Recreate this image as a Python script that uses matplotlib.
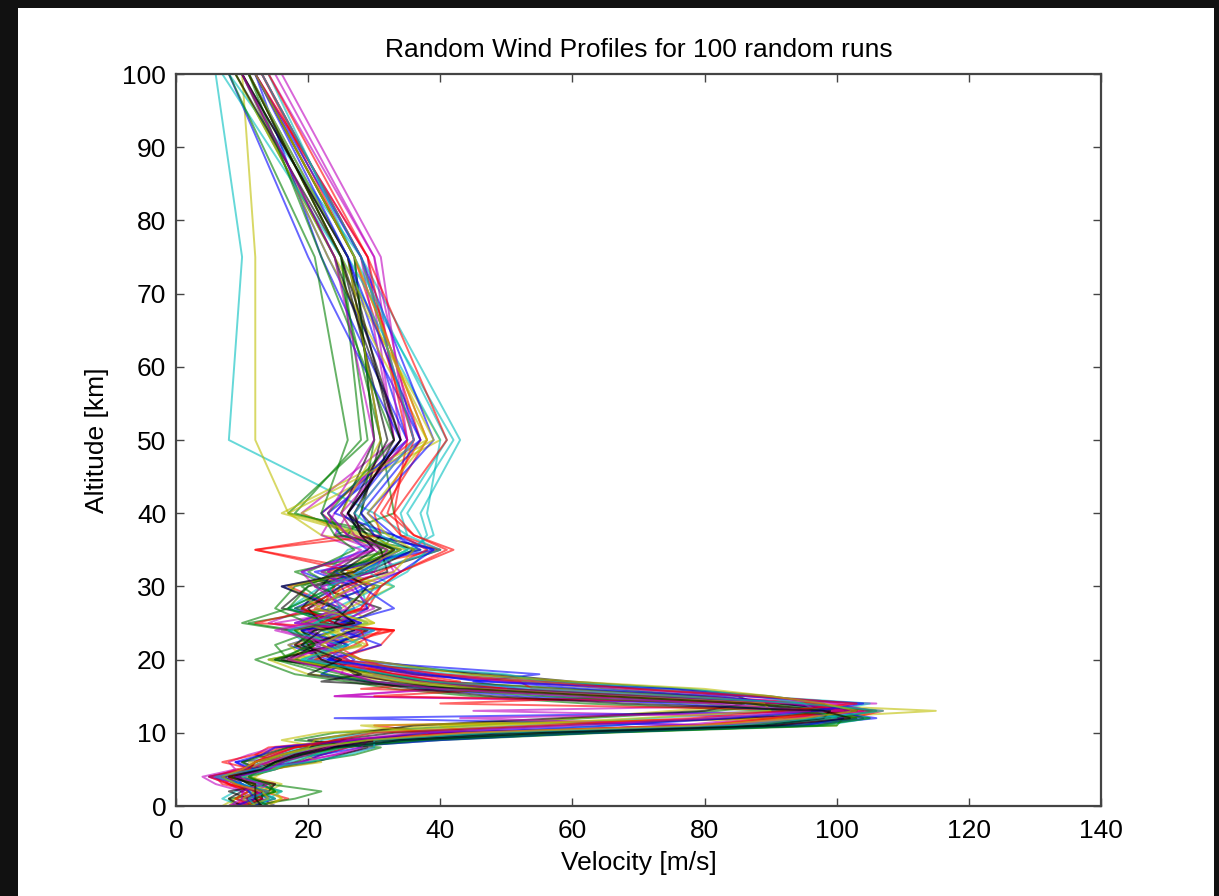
import numpy as np
import matplotlib
matplotlib.use("Agg")
import matplotlib.pyplot as plt
from matplotlib.patches import Rectangle

plt.rcParams['font.family'] = ['Liberation Sans', 'DejaVu Sans']

# altitude levels [km] shared by every run
altitude = [0, 1, 2, 3, 4, 5, 6, 7, 8, 9, 10, 11, 12, 13, 14, 15, 16, 17, 18,
            20, 22, 24, 25, 27, 30, 32, 35, 37, 40, 50, 75, 100]

# velocity [m/s] at each altitude level, one list per run
run01 = [10, 12, 14, 9, 8, 11, 9, 22, 26, 28, 45, 82, 96, 101, 90, 70, 50, 36, 28, 22, 19, 27, 24, 18, 25, 29, 33, 28, 26, 35, 26, 11]
run02 = [13, 9, 11, 12, 10, 13, 16, 20, 24, 38, 64, 97, 103, 97, 92, 80, 66, 52, 38, 14, 26, 20, 28, 18, 31, 22, 37, 24, 33, 31, 24, 9]
run03 = [8, 14, 12, 7, 6, 9, 16, 12, 14, 26, 39, 30, 90, 106, 96, 80, 58, 40, 33, 22, 18, 29, 19, 25, 17, 30, 12, 26, 22, 36, 28, 13]
run04 = [12, 10, 15, 13, 9, 13, 17, 18, 22, 22, 30, 52, 72, 92, 87, 58, 42, 30, 22, 25, 20, 17, 22, 29, 28, 23, 26, 35, 30, 8, 10, 6]
run05 = [9, 11, 10, 8, 5, 10, 18, 24, 30, 25, 44, 76, 88, 104, 95, 24, 39, 34, 25, 26, 23, 21, 15, 29, 22, 33, 31, 27, 19, 33, 29, 12]
run06 = [7, 9, 14, 16, 11, 12, 15, 18, 23, 29, 36, 100, 95, 115, 90, 70, 50, 38, 31, 21, 25, 18, 22, 20, 27, 28, 35, 22, 17, 12, 12, 10]
run07 = [11, 15, 12, 10, 7, 13, 10, 13, 17, 31, 60, 90, 99, 94, 88, 85, 70, 58, 45, 28, 22, 19, 26, 31, 21, 30, 40, 29, 25, 30, 27, 12]
run08 = [15, 13, 11, 9, 9, 11, 14, 16, 25, 35, 61, 95, 106, 98, 86, 64, 52, 45, 55, 23, 17, 24, 19, 27, 25, 19, 29, 26, 23, 37, 23, 10]
run09 = [9, 8, 16, 12, 8, 12, 20, 27, 31, 18, 24, 45, 62, 82, 92, 78, 60, 40, 32, 17, 15, 21, 26, 19, 24, 18, 33, 30, 18, 28, 25, 11]
run10 = [12, 17, 13, 15, 10, 15, 19, 22, 26, 36, 55, 90, 102, 107, 91, 75, 54, 52, 35, 24, 20, 33, 20, 28, 30, 23, 40, 34, 31, 38, 27, 13]
run11 = [10, 7, 9, 13, 6, 11, 14, 17, 21, 38, 62, 98, 105, 100, 89, 67, 47, 37, 30, 20, 26, 23, 25, 17, 24, 27, 36, 38, 37, 43, 28, 8]
run12 = [8, 12, 10, 6, 4, 9, 8, 11, 15, 27, 46, 85, 98, 45, 106, 71, 51, 41, 34, 16, 24, 20, 28, 21, 27, 34, 30, 24, 26, 34, 30, 14]
run13 = [13, 16, 15, 11, 12, 14, 11, 19, 22, 16, 22, 40, 60, 75, 93, 69, 46, 35, 20, 14, 25, 22, 30, 26, 33, 24, 32, 27, 19, 40, 24, 9]
run14 = [10, 11, 8, 14, 8, 12, 15, 18, 23, 32, 49, 87, 96, 100, 98, 90, 76, 60, 48, 17, 21, 19, 24, 19, 22, 24, 29, 31, 28, 31, 26, 10]
run15 = [14, 12, 14, 9, 7, 10, 19, 22, 28, 29, 42, 80, 24, 103, 94, 72, 50, 37, 31, 20, 24, 28, 18, 25, 16, 28, 34, 25, 22, 35, 22, 12]
run16 = [11, 18, 22, 14, 9, 13, 16, 20, 24, 40, 65, 100, 101, 90, 62, 45, 33, 26, 18, 12, 19, 24, 20, 15, 18, 27, 31, 33, 17, 29, 25, 11]
run17 = [9, 10, 13, 8, 6, 11, 14, 17, 21, 31, 47, 83, 100, 106, 97, 74, 28, 43, 36, 28, 24, 33, 21, 29, 31, 34, 41, 36, 32, 36, 27, 12]
run18 = [12, 14, 16, 12, 10, 14, 12, 15, 19, 36, 54, 89, 97, 99, 105, 88, 72, 55, 42, 20, 28, 22, 29, 24, 31, 35, 38, 37, 35, 42, 26, 11]
run19 = [10, 13, 12, 9, 7, 10, 12, 15, 18, 26, 40, 78, 93, 102, 88, 24, 41, 30, 26, 18, 22, 20, 14, 20, 28, 23, 28, 22, 24, 33, 28, 13]
run20 = [8, 9, 11, 10, 8, 12, 16, 19, 22, 28, 45, 40, 95, 100, 90, 66, 47, 36, 29, 20, 17, 25, 22, 23, 25, 26, 33, 28, 16, 38, 23, 10]
run21 = [13, 11, 14, 15, 9, 14, 21, 25, 29, 20, 28, 36, 58, 80, 86, 64, 43, 33, 27, 24, 18, 21, 27, 16, 20, 29, 36, 30, 26, 32, 25, 9]
run22 = [11, 14, 12, 10, 5, 11, 13, 16, 20, 35, 63, 92, 104, 101, 92, 82, 62, 48, 36, 23, 26, 19, 25, 29, 27, 21, 39, 33, 24, 34, 20, 8]
run23 = [10, 12, 15, 13, 11, 15, 18, 21, 25, 35, 59, 94, 103, 95, 87, 63, 42, 30, 25, 16, 20, 18, 11, 24, 19, 25, 32, 26, 28, 30, 27, 12]
run24 = [12, 9, 11, 8, 7, 12, 7, 12, 16, 27, 41, 80, 92, 104, 40, 71, 50, 40, 33, 24, 31, 33, 12, 22, 24, 27, 12, 31, 30, 37, 28, 13]
run25 = [9, 15, 13, 11, 9, 13, 15, 17, 21, 29, 47, 66, 80, 99, 89, 67, 46, 35, 30, 26, 21, 28, 23, 17, 22, 28, 35, 39, 38, 40, 25, 7]
run26 = [11, 10, 12, 14, 6, 10, 14, 18, 22, 31, 50, 82, 94, 105, 100, 86, 68, 50, 40, 20, 25, 16, 24, 30, 26, 22, 30, 28, 27, 36, 30, 15]
run27 = [14, 16, 14, 11, 10, 14, 22, 19, 25, 32, 38, 28, 91, 98, 88, 65, 44, 34, 28, 18, 29, 23, 19, 25, 30, 26, 33, 27, 25, 31, 26, 11]
run28 = [10, 8, 10, 12, 8, 11, 12, 16, 20, 24, 33, 58, 85, 103, 91, 68, 47, 37, 31, 15, 24, 29, 22, 20, 25, 32, 31, 29, 26, 34, 24, 10]
run29 = [12, 13, 13, 10, 9, 14, 16, 19, 24, 40, 62, 95, 101, 94, 75, 52, 38, 29, 22, 27, 23, 30, 25, 33, 28, 24, 37, 33, 29, 39, 28, 12]
run30 = [11, 11, 12, 9, 7, 12, 10, 14, 17, 30, 49, 87, 99, 106, 95, 70, 49, 38, 31, 18, 21, 17, 10, 17, 20, 24, 34, 25, 23, 33, 22, 11]
run31 = [9, 12, 14, 8, 5, 10, 12, 14, 18, 26, 43, 79, 90, 101, 96, 30, 50, 41, 33, 21, 27, 31, 24, 19, 26, 31, 38, 34, 33, 35, 29, 12]
run32 = [13, 14, 11, 13, 10, 15, 17, 21, 25, 33, 53, 88, 100, 97, 95, 88, 78, 56, 50, 19, 25, 17, 21, 27, 33, 29, 40, 35, 34, 41, 27, 14]
run33 = [10, 11, 13, 9, 6, 12, 19, 24, 28, 29, 45, 83, 43, 102, 93, 69, 48, 37, 30, 26, 21, 28, 18, 25, 22, 30, 32, 27, 25, 35, 31, 16]
run34 = [12, 10, 12, 12, 8, 11, 13, 16, 20, 21, 27, 48, 70, 90, 89, 66, 46, 36, 30, 17, 28, 24, 29, 22, 17, 27, 34, 29, 17, 39, 25, 11]
run35 = [11, 13, 13, 11, 9, 13, 15, 18, 23, 31, 51, 89, 98, 99, 87, 65, 44, 22, 28, 22, 20, 27, 24, 26, 29, 25, 30, 28, 27, 33, 26, 10]
run36 = [9, 12, 11, 10, 7, 12, 9, 13, 15, 27, 38, 66, 84, 97, 104, 86, 75, 46, 38, 23, 31, 25, 28, 22, 29, 34, 39, 30, 28, 37, 26, 12]
run37 = [14, 12, 15, 14, 11, 13, 16, 19, 25, 37, 63, 97, 105, 93, 80, 56, 39, 29, 23, 15, 21, 18, 23, 17, 24, 20, 27, 24, 22, 26, 21, 8]
run38 = [10, 13, 12, 9, 8, 11, 12, 15, 18, 24, 30, 55, 78, 92, 103, 88, 70, 55, 40, 25, 29, 28, 22, 28, 31, 34, 42, 36, 33, 41, 29, 14]
run39 = [12, 11, 14, 10, 6, 12, 20, 26, 30, 30, 48, 84, 97, 107, 95, 76, 55, 39, 32, 19, 26, 30, 21, 25, 23, 29, 35, 31, 27, 36, 28, 13]
run40 = [8, 10, 10, 13, 9, 14, 16, 20, 23, 26, 36, 60, 81, 96, 81, 60, 40, 30, 26, 17, 24, 15, 20, 26, 21, 19, 30, 26, 23, 30, 24, 10]
run41 = [11, 14, 13, 9, 7, 10, 12, 16, 21, 29, 44, 79, 95, 103, 98, 90, 80, 60, 44, 28, 22, 26, 30, 21, 27, 33, 36, 32, 29, 38, 27, 12]
run42 = [13, 12, 12, 12, 8, 13, 15, 19, 24, 34, 56, 91, 102, 98, 68, 48, 36, 28, 20, 25, 19, 22, 27, 24, 16, 27, 33, 28, 26, 34, 25, 11]

runs = [run01, run02, run03, run04, run05, run06, run07, run08, run09, run10,
        run11, run12, run13, run14, run15, run16, run17, run18, run19, run20,
        run21, run22, run23, run24, run25, run26, run27, run28, run29, run30,
        run31, run32, run33, run34, run35, run36, run37, run38, run39, run40,
        run41, run42]

line_colors = ['b', 'g', 'r', 'c', 'm', 'y', 'k']

fig = plt.figure(figsize=(12.19, 8.96), dpi=100, facecolor='#111111')
# white slide area behind the axes
fig.patches.append(Rectangle((18 / 1219, 0), (1214 - 18) / 1219, (896 - 8) / 896,
                             transform=fig.transFigure, facecolor='white',
                             edgecolor='none', zorder=-10))

ax = fig.add_axes([176 / 1219, 90 / 896, (1101 - 176) / 1219, (806 - 74) / 896])
ax.set_zorder(1)
for i, v in enumerate(runs):
    ax.plot(v, altitude, color=line_colors[i % 7], alpha=0.6, lw=1.4)

ax.set_xlim(0, 140)
ax.set_ylim(0, 100)
ax.set_xticks(np.arange(0, 141, 20))
ax.set_yticks(np.arange(0, 101, 10))
ax.tick_params(direction='in', top=True, right=True, length=6, width=1,
               labelsize=19, colors='#444444', labelcolor='black')
ax.tick_params(axis='x', pad=9)
ax.tick_params(axis='y', pad=7)
for s in ax.spines.values():
    s.set_color('#444444')
    s.set_linewidth(1.6)

ax.set_title('Random Wind Profiles for 100 random runs', fontsize=19, pad=12)
ax.set_xlabel('Velocity [m/s]', fontsize=19, labelpad=6)
ax.set_ylabel('Altitude [km]', fontsize=19, labelpad=10)

fig.savefig('out.png', dpi=100, facecolor=fig.get_facecolor())
